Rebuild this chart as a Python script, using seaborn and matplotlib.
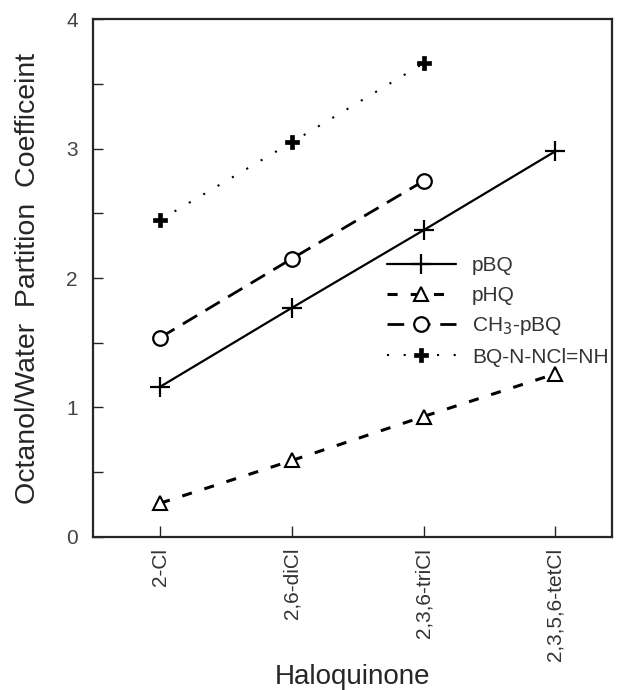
import matplotlib
matplotlib.use("Agg")
import matplotlib.pyplot as plt
import seaborn as sns
import pandas as pd
from matplotlib.ticker import MultipleLocator

categories = ["2-Cl", "2,6-diCl", "2,3,6-triCl", "2,3,5,6-tetCl"]
pBQ = [1.16, 1.77, 2.37, 2.98]
pHQ = [0.26, 0.59, 0.93, 1.26]
CH3_pBQ = [1.54, 2.15, 2.75]
BQ_N_NCl = [2.45, 3.05, 3.66]

sns.set_style("ticks")
plt.rcParams['font.family'] = ['Liberation Sans', 'DejaVu Sans']

fig = plt.figure(figsize=(6.2, 6.9), dpi=100)
ax = fig.add_axes([0.150, 0.222, 0.837, 0.750])

xs = list(range(len(categories)))

series = [
    ("pBQ", pBQ, dict(lw=1.6, ls="-", marker="+", ms=14, mew=1.6, mfc="none")),
    ("pHQ", pHQ, dict(lw=2.2, ls=(0, (3.3, 4.3)), marker="^", ms=10, mew=1.5, mfc="white")),
    ("CH$_3$-pBQ", CH3_pBQ, dict(lw=2.0, ls=(0, (6, 3.5)), marker="o", ms=10.5, mew=1.6, mfc="white")),
    ("BQ-N-NCl=NH", BQ_N_NCl, dict(lw=1.5, ls=(0, (1, 7)), marker="P", ms=10, mew=0.5, mfc="black")),
]

for name, vals, kw in series:
    df = pd.DataFrame({"x": xs[:len(vals)], "y": vals})
    sns.lineplot(data=df, x="x", y="y", ax=ax, label=name, color="black",
                 mec="black", **kw)

ax.set_xlim(-0.51, 3.43)
ax.set_ylim(0, 4)
ax.set_xticks(xs)
ax.set_xticklabels(categories, rotation=90, fontsize=15, color="#333333")
ax.yaxis.set_major_locator(MultipleLocator(1))
ax.yaxis.set_minor_locator(MultipleLocator(0.5))
ax.tick_params(axis="y", which="both", direction="in", length=7, width=1, labelsize=15, labelcolor="#444444", pad=11)
ax.tick_params(axis="x", which="both", direction="in", length=8, width=1, pad=8)
for s in ax.spines.values():
    s.set_linewidth(1.6)
    s.set_visible(True)

ax.set_xlabel("Haloquinone", fontsize=20, labelpad=2)
ax.set_ylabel("Octanol/Water  Partition  Coefficeint", fontsize=20.5, labelpad=18)

leg = ax.legend(loc="upper left", bbox_to_anchor=(0.55, 0.558), frameon=False,
                handlelength=3.3, fontsize=15, labelspacing=0.5, handletextpad=0.8,
                borderaxespad=0, numpoints=1)
for t in leg.get_texts():
    t.set_color("#333333")

fig.savefig("out.png", dpi=100)
